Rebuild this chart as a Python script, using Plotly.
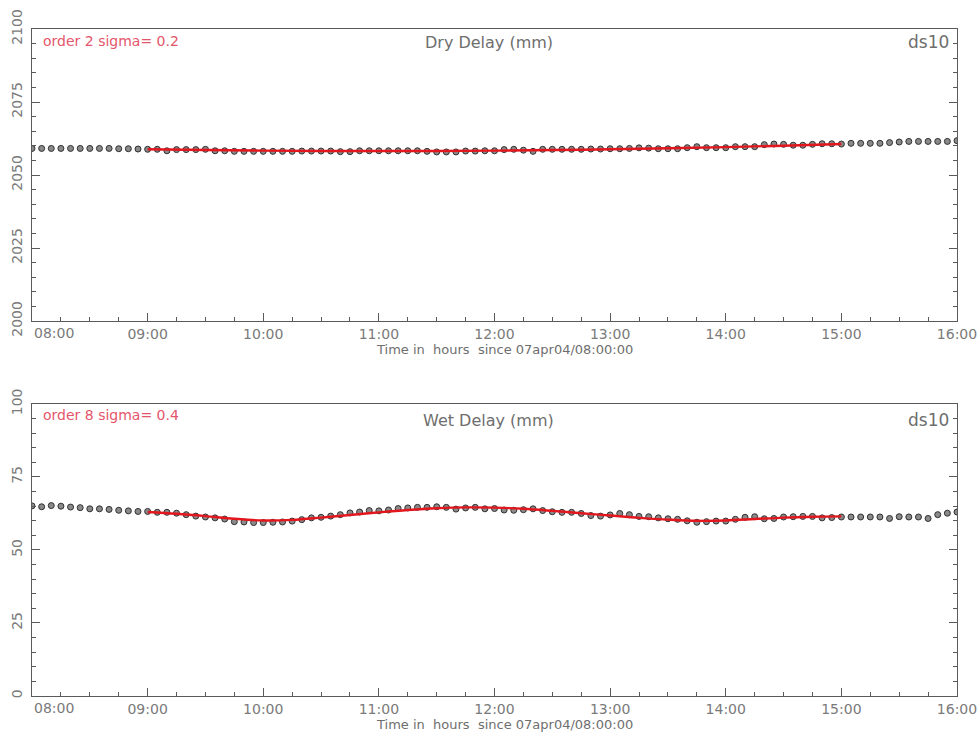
import pandas as pd
import plotly.graph_objects as go

# 5-minute samples, 07apr04 08:00 -> 16:00
times = pd.date_range("2004-04-07 08:00", "2004-04-07 16:00", freq="5min")

hour_ticks = pd.date_range("2004-04-07 08:00", "2004-04-07 16:00", freq="1h")
hour_labels = ["08:00", "09:00", "10:00", "11:00", "12:00",
               "13:00", "14:00", "15:00", "16:00"]

dry_delay = [
    2059.1, 2059.1, 2059.1, 2059.1, 2059.1, 2059.1, 2059.1, 2059.1, 2059.1, 2059.0,
    2059.0, 2058.9, 2058.8, 2058.8, 2058.3, 2058.7, 2058.7, 2058.7, 2058.8, 2058.3,
    2058.3, 2058.1, 2058.1, 2058.1, 2058.1, 2058.1, 2058.1, 2058.1, 2058.2, 2058.2,
    2058.2, 2058.2, 2058.0, 2058.0, 2058.3, 2058.3, 2058.3, 2058.3, 2058.3, 2058.3,
    2058.3, 2058.1, 2057.9, 2057.9, 2057.9, 2058.2, 2058.2, 2058.3, 2058.3, 2058.7,
    2058.8, 2058.5, 2058.1, 2058.8, 2058.8, 2058.8, 2058.8, 2058.8, 2058.9, 2058.9,
    2059.0, 2059.0, 2059.1, 2059.3, 2059.2, 2059.0, 2059.0, 2059.0, 2059.35, 2059.7,
    2059.35, 2059.35, 2059.35, 2059.7, 2059.7, 2059.7, 2060.4, 2060.6, 2060.5, 2060.2,
    2060.2, 2060.5, 2060.7, 2060.7, 2060.6, 2060.85, 2060.85, 2060.85, 2060.85, 2061.1,
    2061.3, 2061.5, 2061.5, 2061.5, 2061.5, 2061.5, 2061.75,
]

wet_delay = [
    65.1, 64.8, 65.2, 65.0, 64.7, 64.5, 64.1, 64.1, 63.9, 63.6,
    63.4, 63.2, 63.2, 62.9, 62.9, 62.6, 62.1, 61.6, 61.3, 61.0,
    60.6, 59.7, 59.6, 59.4, 59.4, 59.5, 59.6, 59.9, 60.4, 61.0,
    61.2, 61.6, 62.1, 62.7, 63.0, 63.5, 63.4, 63.7, 64.2, 64.4,
    64.6, 64.6, 64.8, 64.6, 64.0, 64.4, 64.6, 64.1, 64.2, 63.7,
    63.6, 63.8, 64.1, 63.5, 63.1, 62.9, 62.9, 62.5, 61.8, 61.6,
    62.0, 62.5, 62.1, 61.5, 61.4, 61.0, 60.7, 60.5, 60.0, 59.5,
    59.7, 59.9, 59.9, 60.5, 61.2, 61.4, 60.7, 60.8, 61.3, 61.4,
    61.5, 61.5, 61.0, 61.1, 61.3, 61.3, 61.3, 61.3, 61.3, 60.8,
    61.4, 61.3, 61.3, 60.8, 62.1, 62.6, 63.0,
]

# Polynomial fits over the 09:00-15:00 window
dry_fit_times = pd.date_range("2004-04-07 09:00", "2004-04-07 15:00", freq="30min")
dry_fit = [2058.80, 2058.54, 2058.35, 2058.24, 2058.20, 2058.24, 2058.35,
           2058.54, 2058.80, 2059.14, 2059.55, 2060.04, 2060.60]

wet_fit_times = pd.date_range("2004-04-07 09:00", "2004-04-07 15:00", freq="15min")
wet_fit = [63.0, 62.4, 61.6, 60.7, 60.1, 60.3, 61.1, 62.0, 62.9, 63.7,
           64.3, 64.6, 64.5, 64.1, 63.4, 62.6, 61.8, 61.0, 60.4, 60.0,
           60.1, 60.6, 61.1, 61.4, 61.5]

FONT = "DejaVu Sans"
AXIS_COL = "#5a5a5a"
TEXT_COL = "#6e6e6e"
TICK_COL = "#7a7a7a"
RED = "#e3161e"
LABEL_RED = "#e4566b"
X_TITLE = "Time in\u00a0 hours\u00a0 since 07apr04/08:00:00"

marker_style = dict(size=6, color="#8a8a8a", line=dict(color="#303030", width=1))

fig = go.Figure()

panels = [
    ("x", "y", dry_delay, dry_fit_times, dry_fit),
    ("x2", "y2", wet_delay, wet_fit_times, wet_fit),
]
for xa, ya, vals, ft, fv in panels:
    fig.add_trace(go.Scatter(x=times, y=vals, mode="markers", marker=marker_style,
                             xaxis=xa, yaxis=ya, showlegend=False))
    fig.add_trace(go.Scatter(x=ft, y=fv, mode="lines",
                             line=dict(color=RED, width=2.4, shape="spline"),
                             xaxis=xa, yaxis=ya, showlegend=False))

# first hour label sits right of its tick (added separately below)
xaxis_common = dict(
    type="date",
    range=["2004-04-07 08:00", "2004-04-07 16:00"],
    tickmode="array",
    tickvals=list(hour_ticks),
    ticktext=[""] + hour_labels[1:],
    ticks="inside", ticklen=8, tickcolor=AXIS_COL, tickwidth=1,
    minor=dict(dtick=900000, tick0="2004-04-07 08:00", ticks="inside", ticklen=4,
               tickcolor=AXIS_COL, showgrid=False),
    showline=True, linecolor=AXIS_COL, linewidth=1, mirror=True,
    showgrid=False, zeroline=False, automargin=False,
    tickfont=dict(family=FONT, size=14, color=TICK_COL),
)

yaxis_common = dict(
    ticks="inside", ticklen=8, tickcolor=AXIS_COL, tickwidth=1,
    minor=dict(dtick=5, ticks="inside", ticklen=4, tickcolor=AXIS_COL, showgrid=False),
    showline=True, linecolor=AXIS_COL, linewidth=1, mirror="ticks",
    showgrid=False, zeroline=False, tickangle=-90, automargin=False,
    ticklabelstandoff=3,
    tickfont=dict(family=FONT, size=14, color=TICK_COL),
)

fig.update_layout(
    width=979, height=732,
    margin=dict(l=32, r=22, t=29, b=36),
    paper_bgcolor="white", plot_bgcolor="white",
    font=dict(family=FONT, color=TEXT_COL),
    xaxis=dict(**xaxis_common, anchor="y", domain=[0, 1]),
    yaxis=dict(**yaxis_common, range=[2000, 2100], dtick=25, anchor="x",
               domain=[0.5622, 1.0]),
    xaxis2=dict(**xaxis_common, anchor="y2", domain=[0, 1]),
    yaxis2=dict(**yaxis_common, range=[0, 100], dtick=25, anchor="x2",
                domain=[0.0, 0.4378]),
)

annotations = [
    ("x domain", "y domain", "order 2 sigma= 0.2", 0.0097, 0.959, "left", LABEL_RED, 14),
    ("x domain", "y domain", "Dry Delay (mm)", 0.494, 0.955, "center", TEXT_COL, 16),
    ("x domain", "y domain", "ds10", 0.993, 0.955, "right", TEXT_COL, 17),
    ("x2 domain", "y2 domain", "order 8 sigma= 0.4", 0.0097, 0.963, "left", LABEL_RED, 14),
    ("x2 domain", "y2 domain", "Wet Delay (mm)", 0.494, 0.945, "center", TEXT_COL, 16),
    ("x2 domain", "y2 domain", "ds10", 0.993, 0.945, "right", TEXT_COL, 17),
    ("paper", "paper", X_TITLE, 0.511, 0.5202, "center", TEXT_COL, 13),
    ("paper", "paper", X_TITLE, 0.511, -0.042, "center", TEXT_COL, 13),
]
for xr, yr, txt, ax, ay, anch, col, sz in annotations:
    fig.add_annotation(xref=xr, yref=yr, x=ax, y=ay, text=txt, showarrow=False,
                       xanchor=anch, yanchor="middle",
                       font=dict(family=FONT, size=sz, color=col))

# "08:00" label, left-aligned at the start of each time axis
for xr, yr in (("x domain", "y domain"), ("x2 domain", "y2 domain")):
    fig.add_annotation(xref=xr, yref=yr, x=0, y=0, text=hour_labels[0],
                       showarrow=False, xanchor="left", yanchor="top", yshift=-2,
                       font=dict(family=FONT, size=14, color=TICK_COL))

fig.write_html("out.html")
